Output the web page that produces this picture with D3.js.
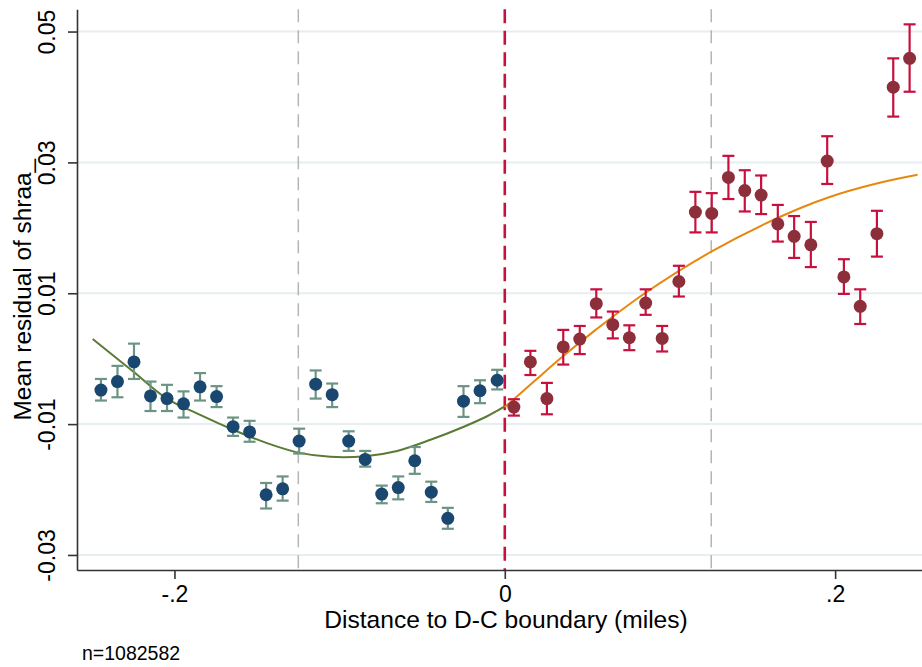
<!DOCTYPE html>
<html lang="en">
<head>
    <meta charset="UTF-8">
    <script src="https://d3js.org/d3.v7.min.js"></script>
    <title>index</title>
    <style>
        body { margin: 0; background: #fff; }
        text { font-family: "Liberation Sans", Arial, sans-serif; }
    </style>
</head>
<body>
    <div id="chart"></div>
    <script>
        // bin means, left of the boundary
        var leftX = [-0.2445, -0.2345, -0.2245, -0.2145, -0.2045, -0.1945, -0.1845, -0.1745, -0.1645, -0.1545, -0.1445, -0.1345, -0.1245,
                     -0.1145, -0.1045, -0.0945, -0.0845, -0.0745, -0.0645, -0.0545, -0.0445, -0.0345, -0.0250, -0.0150, -0.0046];
        var leftMean = [-0.0048, -0.0035, -0.0005, -0.0057, -0.0061, -0.0069, -0.0043, -0.0058, -0.0104, -0.0112, -0.0208, -0.0199, -0.0126,
                        -0.0039, -0.0055, -0.0126, -0.0154, -0.0207, -0.0197, -0.0156, -0.0204, -0.0244, -0.0065, -0.0049, -0.0033];
        var leftHi = [-0.0031, -0.0011, 0.0023, -0.0035, -0.0040, -0.0050, -0.0022, -0.0042, -0.0090, -0.0095, -0.0190, -0.0180, -0.0107,
                      -0.0018, -0.0038, -0.0111, -0.0141, -0.0194, -0.0180, -0.0135, -0.0188, -0.0228, -0.0042, -0.0033, -0.0017];
        var leftLo = [-0.0064, -0.0059, -0.0031, -0.0080, -0.0080, -0.0090, -0.0064, -0.0074, -0.0118, -0.0127, -0.0229, -0.0217, -0.0145,
                      -0.0061, -0.0074, -0.0141, -0.0165, -0.0221, -0.0215, -0.0176, -0.0219, -0.0260, -0.0089, -0.0068, -0.0047];

        // bin means, right of the boundary
        var rightX = [0.0055, 0.0155, 0.0255, 0.0354, 0.0454, 0.0554, 0.0654, 0.0754, 0.0853, 0.0953, 0.1054, 0.1154, 0.1253,
                      0.1354, 0.1453, 0.1552, 0.1653, 0.1752, 0.1853, 0.1952, 0.2053, 0.2152, 0.2253, 0.2352, 0.2451];
        var rightMean = [-0.0074, -0.0005, -0.0061, 0.0018, 0.0030, 0.0084, 0.0052, 0.0032, 0.0085, 0.0031, 0.0118, 0.0224, 0.0222,
                         0.0277, 0.0257, 0.0250, 0.0206, 0.0187, 0.0174, 0.0302, 0.0125, 0.0080, 0.0191, 0.0415, 0.0459];
        var rightHi = [-0.0062, 0.0012, -0.0037, 0.0044, 0.0050, 0.0106, 0.0072, 0.0051, 0.0106, 0.0050, 0.0142, 0.0255, 0.0253,
                       0.0310, 0.0288, 0.0280, 0.0235, 0.0218, 0.0209, 0.0340, 0.0152, 0.0106, 0.0226, 0.0459, 0.0511];
        var rightLo = [-0.0087, -0.0025, -0.0085, -0.0009, 0.0007, 0.0063, 0.0031, 0.0013, 0.0067, 0.0011, 0.0095, 0.0193, 0.0193,
                       0.0244, 0.0225, 0.0221, 0.0179, 0.0154, 0.0140, 0.0267, 0.0099, 0.0053, 0.0156, 0.0370, 0.0408];

        // fitted lines
        var leftFitX = [-0.2495, -0.2248, -0.2046, -0.1844, -0.1642, -0.1440, -0.1242, -0.1056, -0.0844, -0.0652, -0.0450, -0.0248, -0.0107, 0];
        var leftFitY = [0.0030, -0.0020, -0.0061, -0.0086, -0.0109, -0.0129, -0.0144, -0.0150, -0.0149, -0.0141, -0.0124, -0.0104, -0.0088, -0.0073];
        var rightFitX = [0, 0.0176, 0.0354, 0.0550, 0.0848, 0.1253, 0.1651, 0.1954, 0.2257, 0.2499];
        var rightFitY = [-0.0074, -0.0035, 0.0004, 0.0044, 0.0100, 0.0164, 0.0215, 0.0246, 0.0268, 0.0281];

        var yTicks = [-0.03, -0.01, 0.01, 0.03, 0.05];
        var yTickLabels = ['-0.03', '-0.01', '0.01', '0.03', '0.05'];
        var xTicks = [-0.2, 0, 0.2];
        var xTickLabels = ['-.2', '0', '.2'];
        var bandLines = [-0.125, 0.125];
        var cutoff = 0;

        var width = 922;
        var height = 667;
        var plotLeft = 77, plotRight = 922, plotTop = 9.3, plotBottom = 570;

        var x = d3.scaleLinear().domain([-0.259, 0.2526]).range([plotLeft, plotRight]);
        var y = d3.scaleLinear().domain([-0.0323, 0.0534]).range([plotBottom, plotTop]);

        const svg = d3.select('#chart')
                        .append('svg')
                            .attr('width', width)
                            .attr('height', height);

        // grid
        svg.selectAll('.grid')
            .data(yTicks)
            .enter()
            .append('line')
                .attr('x1', plotLeft)
                .attr('x2', plotRight)
                .attr('y1', d => y(d))
                .attr('y2', d => y(d))
                .attr('stroke', '#e6eef0')
                .attr('stroke-width', 2);

        svg.selectAll('.band')
            .data(bandLines)
            .enter()
            .append('line')
                .attr('x1', d => x(d))
                .attr('x2', d => x(d))
                .attr('y1', plotTop)
                .attr('y2', plotBottom)
                .attr('stroke', '#b5b5b5')
                .attr('stroke-width', 1.5)
                .attr('stroke-dasharray', '13,8');

        svg.append('line')
            .attr('x1', x(cutoff))
            .attr('x2', x(cutoff))
            .attr('y1', plotTop)
            .attr('y2', plotBottom)
            .attr('stroke', '#c8103e')
            .attr('stroke-width', 2.6)
            .attr('stroke-dasharray', '14,7.5');

        // axes
        const yAxis = svg.append('g')
            .attr('transform', 'translate(' + plotLeft + ',0)')
            .call(d3.axisLeft(y).tickValues(yTicks).tickSize(9).tickSizeOuter(0)
                .tickFormat((d, i) => yTickLabels[i]));
        yAxis.selectAll('text')
            .attr('transform', 'rotate(-90)')
            .attr('x', 0)
            .attr('y', -22)
            .attr('dy', 0)
            .attr('text-anchor', 'middle')
            .attr('font-size', 23)
            .attr('fill', '#000');

        const xAxis = svg.append('g')
            .attr('transform', 'translate(0,' + plotBottom + ')')
            .call(d3.axisBottom(x).tickValues(xTicks).tickSize(9).tickSizeOuter(0)
                .tickFormat((d, i) => xTickLabels[i]));
        xAxis.selectAll('text')
            .attr('y', 16)
            .attr('font-size', 23)
            .attr('fill', '#000');

        [yAxis, xAxis].forEach(function(g) {
            g.selectAll('path, line').attr('stroke', '#333').attr('stroke-width', 1.6);
            g.attr('font-family', null);
        });

        // fits
        var line = d3.line().x(d => x(d[0])).y(d => y(d[1])).curve(d3.curveCatmullRom);
        svg.append('path')
            .attr('d', line(leftFitX.map((v, i) => [v, leftFitY[i]])))
            .attr('fill', 'none')
            .attr('stroke', '#5a7a35')
            .attr('stroke-width', 2);
        svg.append('path')
            .attr('d', line(rightFitX.map((v, i) => [v, rightFitY[i]])))
            .attr('fill', 'none')
            .attr('stroke', '#e8870e')
            .attr('stroke-width', 2);

        // binned means with CIs
        function drawBins(xs, means, his, los, barColor, dotColor) {
            var data = xs.map(function(v, i) {
                return { x: v, m: means[i], hi: his[i], lo: los[i] };
            });
            var g = svg.append('g');
            var bars = g.selectAll('.bar')
                .data(data)
                .enter()
                .append('g')
                    .attr('stroke', barColor)
                    .attr('stroke-width', 2.2);
            bars.append('line')
                .attr('x1', d => x(d.x)).attr('x2', d => x(d.x))
                .attr('y1', d => y(d.hi)).attr('y2', d => y(d.lo));
            bars.append('line')
                .attr('x1', d => x(d.x) - 6).attr('x2', d => x(d.x) + 6)
                .attr('y1', d => y(d.hi)).attr('y2', d => y(d.hi));
            bars.append('line')
                .attr('x1', d => x(d.x) - 6).attr('x2', d => x(d.x) + 6)
                .attr('y1', d => y(d.lo)).attr('y2', d => y(d.lo));
            g.selectAll('.dot')
                .data(data)
                .enter()
                .append('circle')
                    .attr('cx', d => x(d.x))
                    .attr('cy', d => y(d.m))
                    .attr('r', 6.5)
                    .attr('fill', dotColor);
        }

        drawBins(leftX, leftMean, leftHi, leftLo, '#6c9484', '#1a476f');
        drawBins(rightX, rightMean, rightHi, rightLo, '#c8103e', '#8c2f3b');

        // titles
        svg.append('text')
            .attr('x', 506)
            .attr('y', 628)
            .attr('text-anchor', 'middle')
            .attr('font-size', 24.6)
            .text('Distance to D-C boundary (miles)');

        svg.append('text')
            .attr('transform', 'translate(31,' + ((plotTop + plotBottom) / 2) + ') rotate(-90)')
            .attr('text-anchor', 'middle')
            .attr('font-size', 24.4)
            .text('Mean residual of shraa_');

        svg.append('text')
            .attr('x', 82)
            .attr('y', 660)
            .attr('font-size', 19.5)
            .text('n=1082582');
    </script>
</body>
</html>
